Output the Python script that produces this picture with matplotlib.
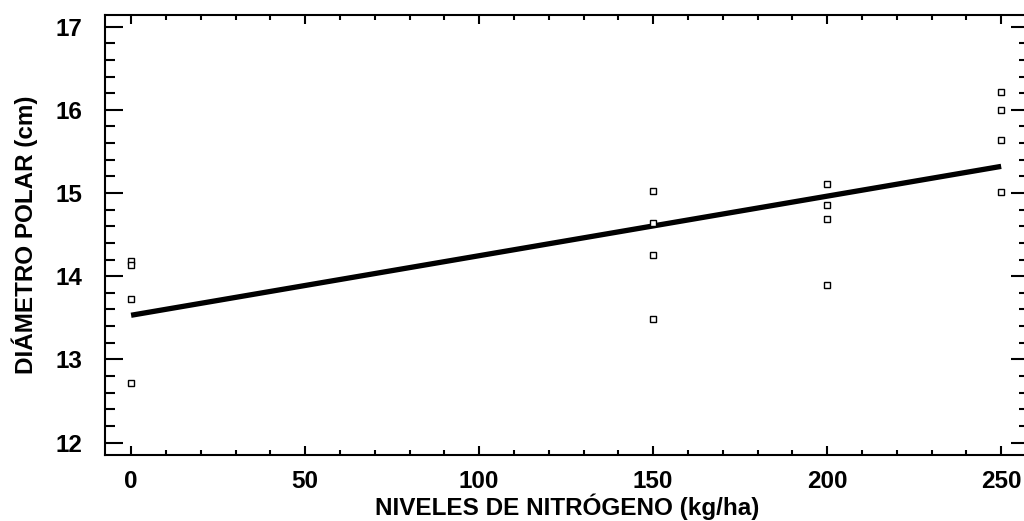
import matplotlib
matplotlib.use("Agg")
import matplotlib.pyplot as plt
from matplotlib.ticker import MultipleLocator

plt.rcParams['font.family'] = ['Liberation Sans', 'DejaVu Sans']

# Observed data
nitrogen = [0, 0, 0, 0,
            150, 150, 150, 150,
            200, 200, 200, 200,
            250, 250, 250, 250]
diameter = [14.18, 14.13, 13.73, 12.71,
            15.03, 14.64, 14.26, 13.48,
            15.11, 14.85, 14.69, 13.89,
            16.22, 16.00, 15.64, 15.01]

# Fitted regression line endpoints
fit_x = [0, 250]
fit_y = [13.53, 15.32]

xticks = [0, 50, 100, 150, 200, 250]
yticks = [12, 13, 14, 15, 16, 17]

fig = plt.figure(figsize=(10.24, 5.21), dpi=100)
ax = fig.add_axes([105/1024, (521-455)/521, (1029-105)/1024, (455-15)/521])

ax.plot(fit_x, fit_y, color='black', lw=3.8, solid_capstyle='butt', zorder=2)
ax.plot(nitrogen, diameter, ls='none', marker='s', ms=5, mfc='white', mec='black', mew=1.0, zorder=3)

ax.set_xlim(-7.5, 258)
ax.set_ylim(11.85, 17.14)
ax.set_xticks(xticks)
ax.set_yticks(yticks)
ax.xaxis.set_minor_locator(MultipleLocator(10))
ax.yaxis.set_minor_locator(MultipleLocator(0.2))

ax.tick_params(axis='x', which='major', direction='in', length=6.5, width=1.5, top=True, bottom=True, pad=11, labelsize=17.5)
ax.tick_params(axis='x', which='minor', direction='in', length=3.6, width=1.5, top=True, bottom=True)
ax.tick_params(axis='y', which='major', direction='in', length=13, width=1.5, left=True, right=True, pad=16.5, labelsize=17.5)
ax.tick_params(axis='y', which='minor', direction='in', length=7.2, width=1.5, left=True, right=True)
for lab in ax.get_xticklabels() + ax.get_yticklabels():
    lab.set_fontweight('bold')

for sp in ax.spines.values():
    sp.set_linewidth(1.5)

ax.set_xlabel('NIVELES DE NITRÓGENO (kg/ha)', fontsize=17.5, fontweight='bold')
ax.set_ylabel('DIÁMETRO POLAR (cm)', fontsize=17.5, fontweight='bold')
ax.xaxis.set_label_coords(0.5, -0.088)
ax.yaxis.set_label_coords(-0.072, 0.5)

fig.savefig('out.png', dpi=100)
